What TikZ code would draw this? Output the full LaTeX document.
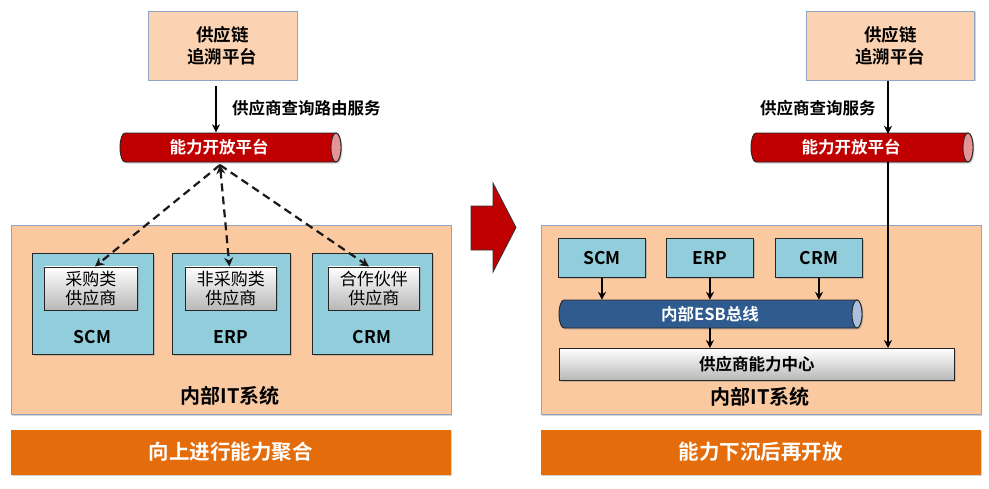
\documentclass[tikz,border=0pt]{standalone}
\usepackage{fontspec}
\setmainfont{Noto Sans CJK SC}[BoldFont={Noto Sans CJK SC Bold}]
\usetikzlibrary{arrows.meta,shadows}
\definecolor{peachc}{HTML}{FAC9A0}
\definecolor{peachtop}{HTML}{FBD3B3}
\definecolor{peachborder}{HTML}{8EA6C4}
\definecolor{bluec}{HTML}{92CDDC}
\definecolor{orangec}{HTML}{E46C0A}
\definecolor{redc}{HTML}{C00000}
\definecolor{redcap}{HTML}{E49494}
\definecolor{esbc}{HTML}{2F5B8E}
\definecolor{esbcap}{HTML}{A9BFDB}
\definecolor{darkline}{HTML}{262626}
\tikzset{
  shd/.style={drop shadow={opacity=0.35,shadow xshift=1.5pt,shadow yshift=-1.5pt}},
  peachbox/.style={draw=peachborder,fill=peachc,line width=0.8pt,inner sep=0pt,anchor=north west,shd},
  topbox/.style={peachbox,fill=peachtop,align=center,font=\fontsize{17.5}{22}\selectfont\bfseries},
  bluebox/.style={draw=darkline,fill=bluec,line width=0.9pt,inner sep=0pt,anchor=north west,shd},
  graybox/.style={draw=darkline,top color=white,bottom color=black!28,line width=0.9pt,inner sep=0pt,anchor=north west,shd},
  orangebar/.style={fill=orangec,inner sep=0pt,anchor=north west,text=white,font=\fontsize{20.5}{24}\selectfont\bfseries,shd},
  lbl/.style={inner sep=0pt,font=\fontsize{16.5}{20}\selectfont\bfseries},
  syslbl/.style={inner sep=0pt,font=\fontsize{20}{22}\selectfont\bfseries},
  innertxt/.style={align=center,font=\fontsize{17}{19}\selectfont},
  arr/.style={line width=2pt,-{Stealth[length=8pt,width=8pt]},draw=black},
  dasharr/.style={line width=2.2pt,dash pattern=on 8pt off 5pt,draw=black!90},
  tipend/.style={-{Stealth[length=9pt,width=9pt]}},
  tipboth/.style={{Stealth[length=9pt,width=9pt]}-{Stealth[length=9pt,width=9pt]}},
}
\begin{document}
\begin{tikzpicture}[x=1pt,y=-1pt]
\useasboundingbox (0,0) rectangle (989,488);

% ================= LEFT =================
\node[topbox,minimum width=149,minimum height=69] (topL) at (147.5,10.5) {供应链\\追溯平台};

% red pipe left
\fill[redc,shd] (125,133) arc[start angle=270,end angle=90,x radius=5,y radius=14.5] -- (336,162) arc[start angle=90,end angle=-90,x radius=5,y radius=14.5] -- cycle;
\draw[darkline,line width=0.9pt] (125,133) arc[start angle=270,end angle=90,x radius=5,y radius=14.5] -- (336,162) arc[start angle=90,end angle=-90,x radius=5,y radius=14.5] -- cycle;
\filldraw[fill=redcap,draw=darkline,line width=0.9pt] (336,147.5) ellipse[x radius=5,y radius=14.5];
\node[inner sep=0pt,minimum height=29,text=white,font=\fontsize{16.5}{18}\selectfont\bfseries] (openL) at (219,147.5) {能力开放平台};

\draw[arr] ([yshift=-6pt]topL.south -| openL.north) ++(-3,0) -- ++(0,46);
\node[lbl,anchor=west] (svcL) at (232,108) {供应商查询路由服务};

% internal box left
\node[peachbox,minimum width=440,minimum height=189] (itL) at (10.5,225) {};
\node[syslbl] (itLlbl) at (230,396) {内部IT系统};

\node[bluebox,minimum width=121,minimum height=101] (scmL) at (32,253) {};
\node[bluebox,minimum width=118,minimum height=101] (erpL) at (172,253) {};
\node[bluebox,minimum width=120,minimum height=101] (crmL) at (312,253) {};
\node[graybox,minimum width=93,minimum height=43,innertxt] (supL1) at (44,266.5) {采购类\\供应商};
\node[graybox,minimum width=91,minimum height=43,innertxt] (supL2) at (185,266.5) {非采购类\\供应商};
\node[graybox,minimum width=91,minimum height=43,innertxt] (supL3) at (328,266.5) {合作伙伴\\供应商};
\node[lbl,font=\fontsize{17.5}{20}\selectfont\bfseries] (scmLt) at (92.5,337) {SCM};
\node[lbl,font=\fontsize{17.5}{20}\selectfont\bfseries] (erpLt) at (231,337) {ERP};
\node[lbl,font=\fontsize{17.5}{20}\selectfont\bfseries] (crmLt) at (372,337) {CRM};

\coordinate (apex) at (220,165);
\draw[dasharr,tipend] (apex) -- ([xshift=4pt]supL1.north);
\draw[dasharr,tipboth] (apex) -- ([xshift=-1.5pt]supL2.north);
\draw[dasharr,tipend] (apex) -- ([xshift=-5pt]supL3.north);

\node[orangebar,minimum width=440,minimum height=45] (barL) at (10.5,429.5) {向上进行能力聚合};

% ================= ARROW =================
\filldraw[fill=redc,draw=black!80,line width=0.8pt] (471,206) -- (493,206) -- (493,183) -- (516,227.5) -- (493,272) -- (493,250) -- (471,250) -- cycle;

% ================= RIGHT =================
\node[topbox,minimum width=168,minimum height=69] (topR) at (806,10.5) {供应链\\追溯平台};

\fill[redc,shd] (756,133) arc[start angle=270,end angle=90,x radius=5,y radius=14.5] -- (968,162) arc[start angle=90,end angle=-90,x radius=5,y radius=14.5] -- cycle;
\draw[darkline,line width=0.9pt] (756,133) arc[start angle=270,end angle=90,x radius=5,y radius=14.5] -- (968,162) arc[start angle=90,end angle=-90,x radius=5,y radius=14.5] -- cycle;
\filldraw[fill=redcap,draw=darkline,line width=0.9pt] (968,147.5) ellipse[x radius=5,y radius=14.5];
\node[inner sep=0pt,minimum height=29,text=white,font=\fontsize{16.5}{18}\selectfont\bfseries] (openR) at (851,147.5) {能力开放平台};

\node[lbl,anchor=west] (svcR) at (760,108) {供应商查询服务};

\node[peachbox,minimum width=440,minimum height=189] (itR) at (540.5,225) {};
\node[syslbl] (itRlbl) at (760,397) {内部IT系统};

\node[bluebox,minimum width=87,minimum height=39,font=\fontsize{17.5}{20}\selectfont\bfseries] (scmR) at (558,238) {SCM};
\node[bluebox,minimum width=87,minimum height=39,font=\fontsize{17.5}{20}\selectfont\bfseries] (erpR) at (666,238) {ERP};
\node[bluebox,minimum width=87,minimum height=39,font=\fontsize{17.5}{20}\selectfont\bfseries] (crmR) at (775,238) {CRM};

% ESB pipe
\fill[esbc,shd] (564,300) arc[start angle=270,end angle=90,x radius=5,y radius=14] -- (857,328) arc[start angle=90,end angle=-90,x radius=5,y radius=14] -- cycle;
\draw[darkline,line width=0.9pt] (564,300) arc[start angle=270,end angle=90,x radius=5,y radius=14] -- (857,328) arc[start angle=90,end angle=-90,x radius=5,y radius=14] -- cycle;
\filldraw[fill=esbcap,draw=darkline,line width=0.9pt] (857,314) ellipse[x radius=5,y radius=14];
\node[inner sep=0pt,minimum width=303,minimum height=28,text=white,font=\fontsize{16.5}{18}\selectfont\bfseries] (esb) at (710,314) {内部ESB总线};

\node[graybox,minimum width=395,minimum height=32,font=\fontsize{16.5}{19}\selectfont\bfseries] (hub) at (559,348) {供应商能力中心};

\node[orangebar,minimum width=440,minimum height=45] (barR) at (540.5,429.5) {能力下沉后再开放};

% arrows right
\coordinate (vR) at (888,0);
\draw[arr] ([yshift=-1pt]topR.south -| vR) -- ([yshift=-1pt]openR.north -| vR);
\draw[arr] (openR.south -| vR) -- (hub.north -| vR);
\draw[arr] (scmR.south) -- (esb.north -| scmR.south);
\draw[arr] (erpR.south) -- (esb.north -| erpR.south);
\draw[arr] (crmR.south) -- (esb.north -| crmR.south);
\draw[arr] (esb.south -| erpR.south) -- (hub.north -| erpR.south);
\end{tikzpicture}
\end{document}
